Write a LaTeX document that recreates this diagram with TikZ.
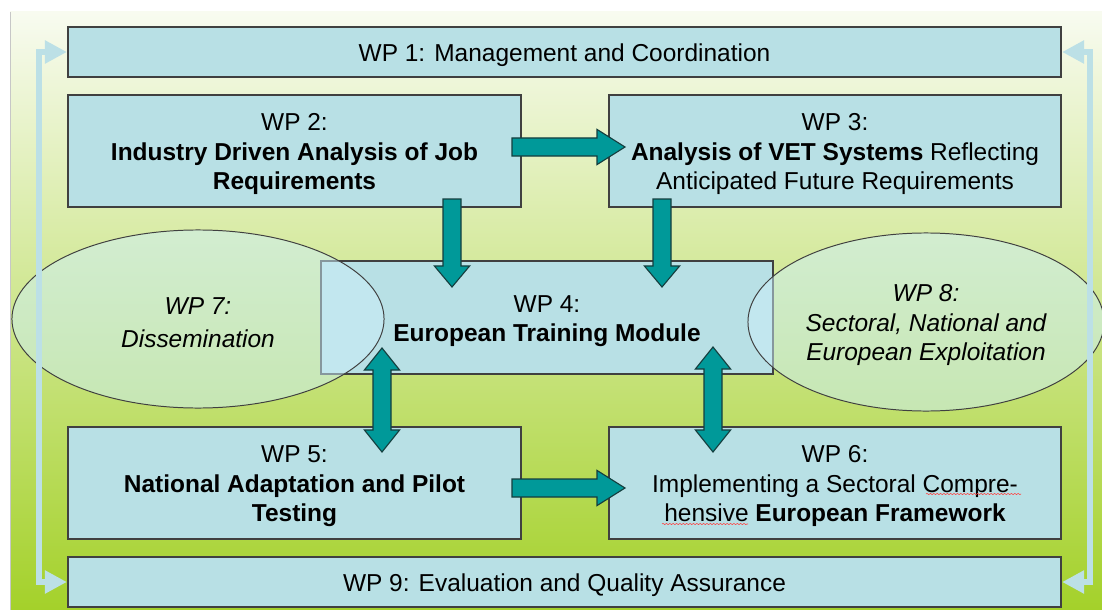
\documentclass[tikz,border=0pt]{standalone}
\usepackage{fontspec}
\setmainfont{Liberation Sans}
\usetikzlibrary{calc,shapes.geometric,arrows.meta,decorations.pathmorphing}

\definecolor{wpblue}{HTML}{B8E0E5}
\definecolor{wpedge}{HTML}{404040}
\definecolor{wpteal}{HTML}{009999}
\definecolor{tealedge}{HTML}{153E3E}
\definecolor{bgtop}{HTML}{F8FBF0}
\definecolor{bgmid}{HTML}{DDEC9E}
\definecolor{bgbot}{HTML}{A4D12A}
\definecolor{ovalfill}{HTML}{CDEFFA}
\definecolor{sideblue}{HTML}{BCE0E6}

\newcommand{\wpfont}{\fontsize{17.4}{21}\selectfont}
% taller first line, pushes the text a little down
\newcommand{\wpstrut}{\rule{0pt}{17pt}}

\tikzset{
	wpbox/.style={draw=wpedge, line width=1.4pt, fill=wpblue, align=center, inner sep=0pt, font=\wpfont},
	widebox/.style={wpbox, minimum width=24.825cm, minimum height=1.25cm},
	halfbox/.style={wpbox, minimum width=11.3cm, minimum height=2.8cm},
	wpoval/.style={ellipse, draw=black!75, line width=0.7pt, fill=ovalfill, fill opacity=0.5, text opacity=1, align=center, inner sep=0pt, font=\wpfont\itshape},
	arrowbody/.style={fill=wpteal, draw=tealedge, line width=0.8pt, line join=miter},
	% fat arrow, #1 = head length
	fat/.style={arrowbody, to path={
		-- ($(\tikztostart)!0.225cm!90:(\tikztotarget)$)
		-- ($($(\tikztotarget)!#1!(\tikztostart)$)!0.225cm!90:(\tikztotarget)$)
		-- ($($(\tikztotarget)!#1!(\tikztostart)$)!0.44cm!90:(\tikztotarget)$)
		-- (\tikztotarget)
		-- ($($(\tikztotarget)!#1!(\tikztostart)$)!0.44cm!-90:(\tikztotarget)$)
		-- ($($(\tikztotarget)!#1!(\tikztostart)$)!0.225cm!-90:(\tikztotarget)$)
		-- ($(\tikztostart)!0.225cm!-90:(\tikztotarget)$) -- cycle}},
	% fat arrow with two heads
	fatboth/.style={arrowbody, to path={
		-- ($($(\tikztostart)!#1!(\tikztotarget)$)!0.44cm!90:(\tikztotarget)$)
		-- ($($(\tikztostart)!#1!(\tikztotarget)$)!0.225cm!90:(\tikztotarget)$)
		-- ($($(\tikztotarget)!#1!(\tikztostart)$)!0.225cm!90:(\tikztotarget)$)
		-- ($($(\tikztotarget)!#1!(\tikztostart)$)!0.44cm!90:(\tikztotarget)$)
		-- (\tikztotarget)
		-- ($($(\tikztotarget)!#1!(\tikztostart)$)!0.44cm!-90:(\tikztotarget)$)
		-- ($($(\tikztotarget)!#1!(\tikztostart)$)!0.225cm!-90:(\tikztotarget)$)
		-- ($($(\tikztostart)!#1!(\tikztotarget)$)!0.225cm!-90:(\tikztotarget)$)
		-- ($($(\tikztostart)!#1!(\tikztotarget)$)!0.44cm!-90:(\tikztotarget)$)
		-- cycle}},
	sideline/.style={draw=sideblue, line width=0.15cm, line join=miter,
		{Triangle[length=0.55cm,width=0.55cm]}-{Triangle[length=0.55cm,width=0.55cm]}},
	spellwave/.style={draw=red!75, line width=0.4pt, decorate, decoration={snake, amplitude=0.45pt, segment length=2.4pt}}
}

\begin{document}
\begin{tikzpicture}[x=0.025cm, y=-0.025cm]
	\useasboundingbox (0,0) rectangle (1102,610);

	%background
	\shade[top color=bgtop, middle color=bgmid, bottom color=bgbot] (10,12) rectangle (1102,610);
	\draw[black!22, line width=0.7pt] (10,12) -- (10,610);

	%work packages
	\node[widebox] (wp1) at (564.5,52) {\wpstrut WP 1: Management and Coordination};
	\node[halfbox] (wp2) at (294.5,151) {\wpstrut WP 2:\\ \textbf{Industry Driven Analysis of Job}\\ \textbf{Requirements}};
	\node[halfbox] (wp3) at (835,151) {\wpstrut WP 3:\\ \textbf{Analysis of VET Systems} Reflecting\\ Anticipated Future Requirements};
	\node[halfbox, minimum height=2.825cm] (wp4) at (547,317.5) {\wpstrut WP 4:\\ \textbf{European Training Module}};
	\node[halfbox] (wp5) at (294.5,483) {\wpstrut WP 5:\\ \textbf{National Adaptation and Pilot}\\ \textbf{Testing}};
	\node[halfbox] (wp6) at (835,483) {\wpstrut WP 6:\\ Implementing a Sectoral Compre-\\ hensive \textbf{European Framework}};
	\node[widebox] (wp9) at (564.5,582) {\wpstrut WP 9: Evaluation and Quality Assurance};

	%spell check marks
	\draw[spellwave] (926,494) -- (1021,494);
	\draw[spellwave] (662,524) -- (748,524);

	%side ellipses
	\node[wpoval, minimum width=9.3cm, minimum height=4.45cm] (wp7) at (198,319) {\wpstrut WP 7:\\[2pt] Dissemination};
	\node[wpoval, minimum width=8.9cm, minimum height=4.45cm] (wp8) at (926,322) {\wpstrut WP 8:\\ Sectoral, National and\\ European Exploitation};

	%feedback lines
	\draw[sideline] (wp9.west) -- ++(-28,0) |- (wp1.west);
	\draw[sideline] (wp1.east) -- ++(28,0) |- (wp9.east);

	%block arrows
	\coordinate (r23s) at (512,147);
	\coordinate (r23t) at (625,147);
	\coordinate (r56s) at (512,488);
	\coordinate (r56t) at (625,488);
	\coordinate (d24s) at (452,199);
	\coordinate (d24t) at (452,287);
	\coordinate (d34s) at (662,199);
	\coordinate (d34t) at (662,287);
	\coordinate (b45s) at (382,348);
	\coordinate (b45t) at (382,452);
	\coordinate (b46s) at (713,347);
	\coordinate (b46t) at (713,452);

	\draw[fat=0.7cm] (r23s) to (r23t);
	\draw[fat=0.7cm] (r56s) to (r56t);
	\draw[fat=0.525cm] (d24s) to (d24t);
	\draw[fat=0.525cm] (d34s) to (d34t);
	\draw[fatboth=0.55cm] (b45s) to (b45t);
	\draw[fatboth=0.55cm] (b46s) to (b46t);
\end{tikzpicture}
\end{document}
